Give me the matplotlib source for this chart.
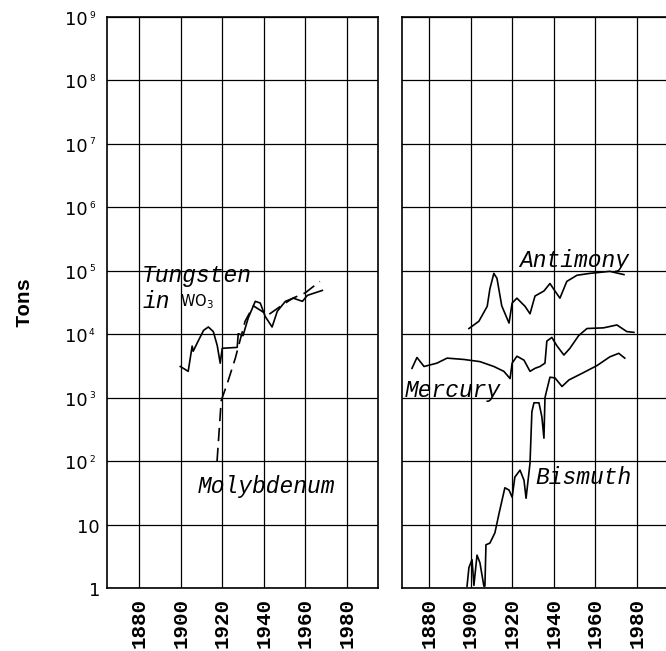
import matplotlib
matplotlib.use('Agg')
import matplotlib.pyplot as plt

# Production data (year, tons)
TUNGSTEN_YEARS = [1899.8, 1903.6, 1905.5, 1906.0, 1908.4, 1911.0, 1913.3, 1915.7, 1917.6, 1919.0,
                  1920.0, 1927.2, 1927.7, 1930.0, 1932.5, 1935.9, 1938.3, 1940.7, 1944.0,
                  1946.5, 1950.4, 1954.2, 1958.6, 1961.0, 1968.2]
TUNGSTEN_TONS = [3100, 2600, 6500, 5400, 7800, 11500, 13000, 11000, 6600, 3500,
                 6000, 6200, 10200, 9500, 18000, 33000, 31000, 19000, 13000,
                 23000, 33000, 37000, 33000, 41000, 49000]

MOLY_YEARS = [1917.5, 1919.5, 1922.5, 1926.3, 1931.0, 1935.0, 1942.0, 1948.0, 1954.0, 1960.0, 1967.0]
MOLY_TONS = [100, 900, 1700, 4200, 16000, 28000, 20000, 27500, 37000, 45000, 68000]

ANTIMONY_YEARS = [1899.2, 1904.0, 1908.0, 1909.3, 1911.2, 1912.7, 1915.0, 1918.5, 1920.0, 1922.3,
                  1926.2, 1928.6, 1931.0, 1935.3, 1938.2, 1940.6, 1943.0, 1946.3, 1951.2,
                  1957.4, 1967.0, 1973.8]
ANTIMONY_TONS = [12300, 16000, 27500, 52000, 91000, 76000, 28000, 15000, 31000, 37000,
                 27500, 21000, 40000, 48000, 63000, 48000, 37000, 68000, 85000,
                 91000, 98000, 87000]

MERCURY_YEARS = [1871.8, 1874.2, 1877.6, 1883.8, 1888.7, 1896.8, 1904.5, 1911.2, 1916.0, 1919.0,
                 1920.0, 1922.3, 1925.7, 1928.6, 1931.0, 1933.4, 1935.8, 1936.7, 1939.1,
                 1941.5, 1944.9, 1947.8, 1952.0, 1956.0, 1964.0, 1970.4, 1975.2, 1978.6]
MERCURY_TONS = [2900, 4300, 3100, 3500, 4200, 4000, 3700, 3100, 2600, 2000,
                3500, 4500, 3900, 2600, 2900, 3100, 3500, 7800, 8900,
                6600, 4700, 6000, 9500, 12300, 12600, 14000, 11000, 10700]

BISMUTH_YEARS = [1898.3, 1899.2, 1900.7, 1901.6, 1903.1, 1904.5, 1906.4, 1906.9, 1907.4, 1909.3,
                 1911.7, 1913.7, 1916.5, 1918.5, 1920.0, 1921.3, 1923.8, 1925.7, 1926.7,
                 1928.6, 1929.5, 1930.5, 1932.9, 1934.3, 1935.3, 1935.8, 1936.5, 1938.2,
                 1940.6, 1944.0, 1947.3, 1954.5, 1960.8, 1967.0, 1971.3, 1974.2]
BISMUTH_TONS = [1.07, 2.1, 2.8, 1.1, 3.3, 2.5, 1.07, 1.07, 4.8, 5.1,
                7.4, 15, 38, 35, 27, 56, 72, 50, 26,
                93, 600, 830, 830, 500, 230, 1000, 1250, 2100,
                2050, 1500, 1900, 2500, 3200, 4400, 5000, 4200]

DECADE_TICKS = [1880, 1900, 1920, 1940, 1960, 1980]
EXPONENTS = list(range(0, 10))

MONO = 'Liberation Mono'

fig = plt.figure(figsize=(6.66, 6.51), dpi=100)
W, H = 666, 651


def make_axes(left_px, right_px, top_px, bottom_px, xlim):
    ax = fig.add_axes([left_px / W, 1 - bottom_px / H,
                       (right_px - left_px) / W, (bottom_px - top_px) / H])
    ax.set_yscale('log')
    ax.set_ylim(1, 1e9)
    ax.set_xlim(*xlim)
    ax.set_xticks(DECADE_TICKS)
    ax.set_xticklabels([str(t) for t in DECADE_TICKS], rotation=90,
                       fontsize=15, fontweight='bold', family=MONO)
    ax.set_yticks([10 ** e for e in EXPONENTS])
    ax.yaxis.set_minor_locator(matplotlib.ticker.NullLocator())
    ax.set_yticklabels([])
    ax.tick_params(length=0, pad=7)
    ax.grid(True, color='black', lw=0.9)
    for s in ax.spines.values():
        s.set_linewidth(1.2)
    return ax


ax1 = make_axes(107, 378, 17, 588, (1864.5, 1995))
ax2 = make_axes(402, 668, 17, 588, (1867, 1995))

# left panel curves
ax1.plot(TUNGSTEN_YEARS, TUNGSTEN_TONS, color='black', lw=1.2)
ax1.plot(MOLY_YEARS, MOLY_TONS, color='black', lw=1.2, dashes=(8, 4))

# right panel curves
ax2.plot(ANTIMONY_YEARS, ANTIMONY_TONS, color='black', lw=1.2)
ax2.plot(MERCURY_YEARS, MERCURY_TONS, color='black', lw=1.2)
ax2.plot(BISMUTH_YEARS, BISMUTH_TONS, color='black', lw=1.2)

# y tick labels: "10" with a tiny exponent
ytr = ax1.get_yaxis_transform()
for e in EXPONENTS:
    if e == 0:
        txt, off = '1', -7
    elif e == 1:
        txt, off = '10', -7
    else:
        txt, off = '10', -19
    ax1.annotate(txt, xy=(0, 10 ** e), xycoords=ytr, xytext=(off * 0.72, -3 * 0.72),
                 textcoords='offset points', ha='right', va='center',
                 fontsize=13, family='DejaVu Sans')
    if e >= 2:
        ax1.annotate(str(e), xy=(0, 10 ** e), xycoords=ytr, xytext=(-18 * 0.72, 2 * 0.72),
                     textcoords='offset points', ha='left', va='center',
                     fontsize=6.5, family='DejaVu Sans')

# labels on the curves
lab = dict(fontsize=16.5, style='italic', family=MONO, ha='left', va='center')
ax1.text(1881.4, 85000, 'Tungsten', **lab)
ax1.text(1881.4, 33000, 'in', **lab)
ax1.text(1899.8, 33000, r'WO$_3$', fontsize=10.5, family='DejaVu Sans', ha='left', va='center')
ax1.text(1908, 40, 'Molybdenum', **lab)
ax2.text(1923.3, 145000, 'Antimony', **lab)
ax2.text(1868.5, 1320, 'Mercury', **lab)
ax2.text(1931, 56, 'Bismuth', **lab)

fig.text(24 / W, 1 - 302 / H, 'Tons', rotation=90, ha='center', va='center',
         fontsize=15, fontweight='bold', family=MONO)

plt.rcParams['mathtext.default'] = 'regular'
fig.savefig('out.png', dpi=100)
